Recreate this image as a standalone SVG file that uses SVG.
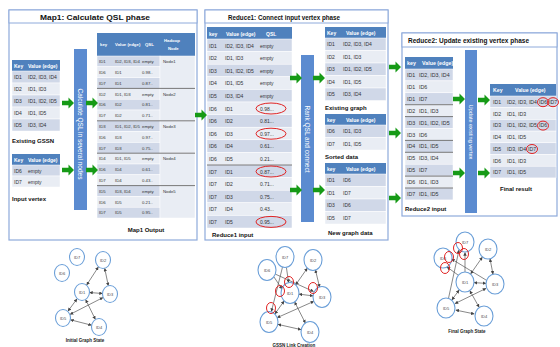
<svg xmlns="http://www.w3.org/2000/svg" width="560" height="347" viewBox="0 0 560 347">
<style>
text{font-family:'Liberation Sans',Arial,sans-serif;fill:#333}
.pn{fill:#fff;stroke:#8eaadb;stroke-width:1.2}
.tb{fill:#fff;stroke:#8eaadb;stroke-width:1}
.tt{font-size:7.5px;font-weight:bold;fill:#111}
.hd{fill:#4f81bd}
.a{fill:#d0d8e8;stroke:#fff;stroke-width:0.5}
.b{fill:#e9edf4;stroke:#fff;stroke-width:0.5}
.ht{fill:#fff;font-weight:bold}
.sep{stroke:#555;stroke-width:0.8}
.bar{fill:#5b8bd0}
.bt{fill:#fff}
.lb{font-size:6px;font-weight:bold;fill:#111}
.ga{fill:#169a16}
.red{fill:none;stroke:#e02424;stroke-width:1}
.nd{fill:#fff;stroke:#6b9fd8;stroke-width:1.1}
.nt{font-size:4px;fill:#444}
.ed{stroke:#555;stroke-width:0.7;fill:none;marker-start:url(#ah);marker-end:url(#ah)}
.ed1{stroke:#555;stroke-width:0.7;fill:none;marker-end:url(#ah)}
.gl{font-size:4.5px;font-weight:bold;fill:#222}
</style>
<defs>
<path id="ga" class="ga" d="M0,-2.2 H6.5 V-5.5 L12,0 L6.5,5.5 V2.2 H0 Z"/>
<marker id="ah" viewBox="0 0 6 6" refX="5.5" refY="3" markerWidth="3.5" markerHeight="3.5" markerUnits="userSpaceOnUse" orient="auto-start-reverse"><path d="M0,0 L6,3 L0,6 z" fill="#444"/></marker>
</defs>
<rect width="560" height="347" fill="#fff"/>

<!-- Map1 panel -->
<g id="map1">
<rect class="pn" x="9" y="10" width="188" height="230"/>
<rect class="tb" x="9" y="10" width="188" height="13"/>
<text class="tt" x="40" y="19.5" textLength="110" lengthAdjust="spacingAndGlyphs">Map1: Calculate QSL phase</text>
</g>

<g id="gssn" font-size="5">
<rect class="hd" x="12" y="60" width="48" height="11"/>
<text class="ht" x="14" y="67.5">Key</text><text class="ht" x="28" y="67.5">Value (edge)</text>
<rect class="a" x="12" y="71" width="48" height="12"/>
<rect class="b" x="12" y="83" width="48" height="12"/>
<rect class="a" x="12" y="95" width="48" height="12"/>
<rect class="b" x="12" y="107" width="48" height="12"/>
<rect class="a" x="12" y="119" width="48" height="12"/>
<text x="14" y="79">ID1</text><text x="28" y="79">ID2, ID3, ID4</text>
<text x="14" y="91">ID2</text><text x="28" y="91">ID1, ID3</text>
<text x="14" y="103">ID3</text><text x="28" y="103">ID1, ID2, ID5</text>
<text x="14" y="115">ID4</text><text x="28" y="115">ID1, ID5</text>
<text x="14" y="127">ID5</text><text x="28" y="127">ID3, ID4</text>
<text class="lb" x="12" y="143">Existing GSSN</text>
</g>

<g id="input-vertex" font-size="5">
<rect class="hd" x="12" y="154" width="48" height="11"/>
<text class="ht" x="14" y="161.5">Key</text><text class="ht" x="28" y="161.5">Value (edge)</text>
<rect class="a" x="12" y="165" width="48" height="11"/>
<rect class="b" x="12" y="176" width="48" height="11"/>
<text x="14" y="172.5">ID6</text><text x="28" y="172.5">empty</text>
<text x="14" y="183.5">ID7</text><text x="28" y="183.5">empty</text>
<text class="lb" x="12" y="201">Input vertex</text>
</g>

<g id="calc-bar">
<rect class="bar" x="74" y="49" width="13" height="161"/>
<text class="bt" font-size="6.5" transform="translate(80.5,134) rotate(90)" text-anchor="middle" dominant-baseline="central">Calculate QSL in several nodes</text>
</g>

<g id="map1-output" font-size="4.3">
<rect class="hd" x="97" y="33" width="98" height="23"/>
<text class="ht" x="100" y="46">key</text><text class="ht" x="115" y="46">Value (edge)</text><text class="ht" x="145" y="46">QSL</text>
<text class="ht" x="164" y="42">Hadoop</text><text class="ht" x="168" y="50">Node</text>
<rect class="a" x="97" y="56" width="63" height="10.8"/>
<rect class="b" x="97" y="66.8" width="63" height="10.8"/>
<rect class="a" x="97" y="77.6" width="63" height="10.8"/>
<rect class="b" x="97" y="88.4" width="63" height="10.8"/>
<rect class="a" x="97" y="99.2" width="63" height="10.8"/>
<rect class="b" x="97" y="110" width="63" height="10.8"/>
<rect class="a" x="97" y="120.8" width="63" height="10.8"/>
<rect class="b" x="97" y="131.6" width="63" height="10.8"/>
<rect class="a" x="97" y="142.4" width="63" height="10.8"/>
<rect class="b" x="97" y="153.2" width="63" height="10.8"/>
<rect class="a" x="97" y="164" width="63" height="10.8"/>
<rect class="b" x="97" y="174.8" width="63" height="10.8"/>
<rect class="a" x="97" y="185.6" width="63" height="10.8"/>
<rect class="b" x="97" y="196.4" width="63" height="10.8"/>
<rect class="a" x="97" y="207.2" width="63" height="10.8"/>
<rect class="b" x="160" y="56" width="35" height="32.4"/>
<rect class="b" x="160" y="88.4" width="35" height="32.4"/>
<rect class="b" x="160" y="120.8" width="35" height="32.4"/>
<rect class="b" x="160" y="153.2" width="35" height="32.4"/>
<rect class="b" x="160" y="185.6" width="35" height="32.4"/>
<line class="sep" x1="97" y1="88.4" x2="195" y2="88.4"/>
<line class="sep" x1="97" y1="120.8" x2="195" y2="120.8"/>
<line class="sep" x1="97" y1="153.2" x2="195" y2="153.2"/>
<line class="sep" x1="97" y1="185.6" x2="195" y2="185.6"/>
<text x="99" y="63.2">ID1</text><text x="115" y="63.2">ID2, ID3, ID4</text><text x="142" y="63.2">empty</text><text x="163" y="63.2">Node1</text>
<text x="99" y="74">ID6</text><text x="115" y="74">ID1</text><text x="142" y="74">0.98..</text>
<text x="99" y="84.8">ID7</text><text x="115" y="84.8">ID1</text><text x="142" y="84.8">0.87..</text>
<text x="99" y="95.6">ID2</text><text x="115" y="95.6">ID1, ID3</text><text x="142" y="95.6">empty</text><text x="163" y="95.6">Node2</text>
<text x="99" y="106.4">ID6</text><text x="115" y="106.4">ID2</text><text x="142" y="106.4">0.81..</text>
<text x="99" y="117.2">ID7</text><text x="115" y="117.2">ID2</text><text x="142" y="117.2">0.71..</text>
<text x="99" y="128">ID3</text><text x="115" y="128">ID1, ID2, ID5</text><text x="142" y="128">empty</text><text x="163" y="128">Node3</text>
<text x="99" y="138.8">ID6</text><text x="115" y="138.8">ID3</text><text x="142" y="138.8">0.97..</text>
<text x="99" y="149.6">ID7</text><text x="115" y="149.6">ID3</text><text x="142" y="149.6">0.75..</text>
<text x="99" y="160.4">ID4</text><text x="115" y="160.4">ID1, ID5</text><text x="142" y="160.4">empty</text><text x="163" y="160.4">Node4</text>
<text x="99" y="171.2">ID6</text><text x="115" y="171.2">ID4</text><text x="142" y="171.2">0.61..</text>
<text x="99" y="182">ID7</text><text x="115" y="182">ID4</text><text x="142" y="182">0.43..</text>
<text x="99" y="192.8">ID5</text><text x="115" y="192.8">ID3, ID4</text><text x="142" y="192.8">empty</text><text x="163" y="192.8">Node5</text>
<text x="99" y="203.6">ID6</text><text x="115" y="203.6">ID5</text><text x="142" y="203.6">0.21..</text>
<text x="99" y="214.4">ID7</text><text x="115" y="214.4">ID5</text><text x="142" y="214.4">0.95..</text>
<text class="lb" x="146" y="232" text-anchor="middle">Map1 Output</text>
</g>

<!-- Reduce1 panel -->
<g id="reduce1">
<rect class="pn" x="205" y="10" width="183" height="230"/>
<rect class="tb" x="205" y="10" width="183" height="13"/>
<text class="tt" x="228" y="19.5" textLength="112" lengthAdjust="spacingAndGlyphs">Reduce1: Connect input vertex phase</text>
</g>

<g id="reduce1-input" font-size="5">
<rect class="hd" x="207" y="27" width="85" height="12"/>
<text class="ht" x="209" y="35.5">key</text><text class="ht" x="226" y="35.5">Value (edge)</text><text class="ht" x="266" y="35.5">QSL</text>
<rect class="a" x="207" y="39" width="85" height="12.6"/>
<rect class="b" x="207" y="51.6" width="85" height="12.6"/>
<rect class="a" x="207" y="64.2" width="85" height="12.6"/>
<rect class="b" x="207" y="76.8" width="85" height="12.6"/>
<rect class="a" x="207" y="89.4" width="85" height="12.6"/>
<rect class="b" x="207" y="102" width="85" height="12.6"/>
<rect class="a" x="207" y="114.6" width="85" height="12.6"/>
<rect class="b" x="207" y="127.2" width="85" height="12.6"/>
<rect class="a" x="207" y="139.8" width="85" height="12.6"/>
<rect class="b" x="207" y="152.4" width="85" height="12.6"/>
<rect class="a" x="207" y="165" width="85" height="12.6"/>
<rect class="b" x="207" y="177.6" width="85" height="12.6"/>
<rect class="a" x="207" y="190.2" width="85" height="12.6"/>
<rect class="b" x="207" y="202.8" width="85" height="12.6"/>
<rect class="a" x="207" y="215.4" width="85" height="12.6"/>
<line class="sep" x1="207" y1="165" x2="292" y2="165"/>
<text x="209" y="47.6">ID1</text><text x="225" y="47.6">ID2, ID3, ID4</text><text x="260" y="47.6">empty</text>
<text x="209" y="60.2">ID2</text><text x="225" y="60.2">ID1, ID3</text><text x="260" y="60.2">empty</text>
<text x="209" y="72.8">ID3</text><text x="225" y="72.8">ID1, ID2, ID5</text><text x="260" y="72.8">empty</text>
<text x="209" y="85.4">ID4</text><text x="225" y="85.4">ID1, ID5</text><text x="260" y="85.4">empty</text>
<text x="209" y="98">ID5</text><text x="225" y="98">ID3, ID4</text><text x="260" y="98">empty</text>
<text x="209" y="110.6">ID6</text><text x="225" y="110.6">ID1</text><text x="260" y="110.6">0.98...</text>
<text x="209" y="123.2">ID6</text><text x="225" y="123.2">ID2</text><text x="260" y="123.2">0.81...</text>
<text x="209" y="135.8">ID6</text><text x="225" y="135.8">ID3</text><text x="260" y="135.8">0.97...</text>
<text x="209" y="148.4">ID6</text><text x="225" y="148.4">ID4</text><text x="260" y="148.4">0.61...</text>
<text x="209" y="161">ID6</text><text x="225" y="161">ID5</text><text x="260" y="161">0.21...</text>
<text x="209" y="173.6">ID7</text><text x="225" y="173.6">ID1</text><text x="260" y="173.6">0.87...</text>
<text x="209" y="186.2">ID7</text><text x="225" y="186.2">ID2</text><text x="260" y="186.2">0.71...</text>
<text x="209" y="198.8">ID7</text><text x="225" y="198.8">ID3</text><text x="260" y="198.8">0.75...</text>
<text x="209" y="211.4">ID7</text><text x="225" y="211.4">ID4</text><text x="260" y="211.4">0.43...</text>
<text x="209" y="224">ID7</text><text x="225" y="224">ID5</text><text x="260" y="224">0.95...</text>
<ellipse class="red" cx="271" cy="108.5" rx="15" ry="5.5"/>
<ellipse class="red" cx="271" cy="133.7" rx="15" ry="5.5"/>
<ellipse class="red" cx="271" cy="171.5" rx="15" ry="5.5"/>
<ellipse class="red" cx="271" cy="221.9" rx="15" ry="5.5"/>
<text class="lb" x="212" y="237">Reduce1 input</text>
</g>

<g id="rank-bar">
<rect class="bar" x="301" y="55" width="13" height="167"/>
<text class="bt" font-size="6.5" transform="translate(307.5,139) rotate(90)" text-anchor="middle" dominant-baseline="central">Rank QSL and connect</text>
</g>

<g id="existing-graph" font-size="5">
<rect class="hd" x="325" y="27" width="61" height="11"/>
<text class="ht" x="327" y="34.5">Key</text><text class="ht" x="346" y="34.5">Value (edge)</text>
<rect class="a" x="325" y="38" width="61" height="12.5"/>
<rect class="b" x="325" y="50.5" width="61" height="12.5"/>
<rect class="a" x="325" y="63" width="61" height="12.5"/>
<rect class="b" x="325" y="75.5" width="61" height="12.5"/>
<rect class="a" x="325" y="88" width="61" height="12.5"/>
<text x="327" y="46.3">ID1</text><text x="343" y="46.3">ID2, ID3, ID4</text>
<text x="327" y="58.8">ID2</text><text x="343" y="58.8">ID1, ID3</text>
<text x="327" y="71.3">ID3</text><text x="343" y="71.3">ID1, ID2, ID5</text>
<text x="327" y="83.8">ID4</text><text x="343" y="83.8">ID1, ID5</text>
<text x="327" y="96.3">ID5</text><text x="343" y="96.3">ID3, ID4</text>
<text class="lb" x="325" y="110">Existing graph</text>
</g>

<g id="sorted-data" font-size="5">
<rect class="hd" x="325" y="114" width="61" height="11"/>
<text class="ht" x="327" y="121.5">key</text><text class="ht" x="346" y="121.5">Value (edge)</text>
<rect class="a" x="325" y="125" width="61" height="12.5"/>
<rect class="b" x="325" y="137.5" width="61" height="12.5"/>
<text x="327" y="133.3">ID6</text><text x="343" y="133.3">ID1, ID3</text>
<text x="327" y="145.8">ID7</text><text x="343" y="145.8">ID1, ID5</text>
<text class="lb" x="325" y="159">Sorted data</text>
</g>

<g id="new-graph-data" font-size="5">
<rect class="hd" x="325" y="163" width="61" height="11"/>
<text class="ht" x="327" y="170.5">key</text><text class="ht" x="346" y="170.5">Value (edge)</text>
<rect class="a" x="325" y="174" width="61" height="12.5"/>
<rect class="b" x="325" y="186.5" width="61" height="12.5"/>
<rect class="a" x="325" y="199" width="61" height="12.5"/>
<rect class="b" x="325" y="211.5" width="61" height="12.5"/>
<text x="327" y="182.3">ID1</text><text x="343" y="182.3">ID6</text>
<text x="327" y="194.8">ID1</text><text x="343" y="194.8">ID7</text>
<text x="327" y="207.3">ID3</text><text x="343" y="207.3">ID6</text>
<text x="327" y="219.8">ID5</text><text x="343" y="219.8">ID7</text>
<text class="lb" x="328" y="235">New graph data</text>
</g>

<!-- Reduce2 panel -->
<g id="reduce2">
<rect class="pn" x="402" y="33" width="155" height="183"/>
<rect class="tb" x="402" y="33" width="155" height="14"/>
<text class="tt" x="408" y="43" textLength="121" lengthAdjust="spacingAndGlyphs">Reduce2: Update existing vertex phase</text>
</g>

<g id="reduce2-input" font-size="5.3">
<rect class="hd" x="405" y="57" width="48" height="12"/>
<text class="ht" x="407" y="65">key</text><text class="ht" x="422" y="65">Value (edge)</text>
<rect class="a" x="405" y="69" width="48" height="11.9"/>
<rect class="b" x="405" y="80.9" width="48" height="11.9"/>
<rect class="a" x="405" y="92.8" width="48" height="11.9"/>
<rect class="b" x="405" y="104.7" width="48" height="11.9"/>
<rect class="a" x="405" y="116.6" width="48" height="11.9"/>
<rect class="b" x="405" y="128.5" width="48" height="11.9"/>
<rect class="a" x="405" y="140.4" width="48" height="11.9"/>
<rect class="b" x="405" y="152.3" width="48" height="11.9"/>
<rect class="a" x="405" y="164.2" width="48" height="11.9"/>
<rect class="b" x="405" y="176.1" width="48" height="11.9"/>
<rect class="a" x="405" y="188" width="48" height="11.9"/>
<line class="sep" x1="405" y1="104.7" x2="453" y2="104.7"/>
<line class="sep" x1="405" y1="116.6" x2="453" y2="116.6"/>
<line class="sep" x1="405" y1="140.4" x2="453" y2="140.4"/>
<line class="sep" x1="405" y1="152.3" x2="453" y2="152.3"/>
<line class="sep" x1="405" y1="176.1" x2="453" y2="176.1"/>
<line class="sep" x1="405" y1="188" x2="453" y2="188"/>
<text x="407" y="77">ID1</text><text x="419" y="77">ID2, ID3, ID4</text>
<text x="407" y="88.9">ID1</text><text x="419" y="88.9">ID6</text>
<text x="407" y="100.8">ID1</text><text x="419" y="100.8">ID7</text>
<text x="407" y="112.7">ID2</text><text x="419" y="112.7">ID1, ID3</text>
<text x="407" y="124.6">ID3</text><text x="419" y="124.6">ID1, ID2, ID5</text>
<text x="407" y="136.5">ID3</text><text x="419" y="136.5">ID6</text>
<text x="407" y="148.4">ID4</text><text x="419" y="148.4">ID1, ID5</text>
<text x="407" y="160.3">ID5</text><text x="419" y="160.3">ID3, ID4</text>
<text x="407" y="172.2">ID5</text><text x="419" y="172.2">ID7</text>
<text x="407" y="184.1">ID6</text><text x="419" y="184.1">ID1, ID3</text>
<text x="407" y="196">ID7</text><text x="419" y="196">ID1, ID5</text>
<text class="lb" x="405" y="211">Reduce2 input</text>
</g>

<g id="update-bar">
<rect class="bar" x="465" y="50" width="12" height="163"/>
<text class="bt" font-size="5.5" transform="translate(471,132) rotate(90)" text-anchor="middle" dominant-baseline="central">Update existing vertex</text>
</g>

<g id="final-result" font-size="5.2">
<rect class="hd" x="490" y="84" width="66" height="12"/>
<text class="ht" x="493" y="92">Key</text><text class="ht" x="515" y="92">Value (edge)</text>
<rect class="a" x="490" y="96" width="66" height="11.7"/>
<rect class="b" x="490" y="107.7" width="66" height="11.7"/>
<rect class="a" x="490" y="119.4" width="66" height="11.7"/>
<rect class="b" x="490" y="131.1" width="66" height="11.7"/>
<rect class="a" x="490" y="142.8" width="66" height="11.7"/>
<rect class="b" x="490" y="154.5" width="66" height="11.7"/>
<rect class="a" x="490" y="166.2" width="66" height="11.7"/>
<text x="493" y="104">ID1</text><text x="507" y="104">ID2, ID3, ID4</text><text x="539" y="104">ID6</text><text x="549" y="104">ID7</text>
<text x="493" y="115.7">ID2</text><text x="507" y="115.7">ID1, ID3</text>
<text x="493" y="127.4">ID3</text><text x="507" y="127.4">ID1, ID2, ID5</text><text x="539" y="127.4">ID6</text>
<text x="493" y="139.1">ID4</text><text x="507" y="139.1">ID1, ID5</text>
<text x="493" y="150.8">ID5</text><text x="507" y="150.8">ID3, ID4</text><text x="528" y="150.8">ID7</text>
<text x="493" y="162.5">ID6</text><text x="507" y="162.5">ID1, ID3</text>
<text x="493" y="174.2">ID7</text><text x="507" y="174.2">ID1, ID5</text>
<ellipse class="red" cx="543" cy="102.2" rx="5.5" ry="4.5"/>
<ellipse class="red" cx="553" cy="102.2" rx="5.5" ry="4.5"/>
<ellipse class="red" cx="543" cy="125.6" rx="5.5" ry="4.5"/>
<ellipse class="red" cx="532" cy="149" rx="5.5" ry="4.5"/>
<text class="lb" x="500" y="191">Final result</text>
</g>

<g id="connectors">
<use href="#ga" x="62" y="103"/>
<use href="#ga" x="86" y="103"/>
<use href="#ga" x="62" y="170"/>
<use href="#ga" x="86" y="170"/>
<use href="#ga" x="195" y="115"/>
<use href="#ga" x="290" y="78"/>
<use href="#ga" x="313" y="78"/>
<use href="#ga" x="290" y="190"/>
<use href="#ga" x="313" y="190"/>
<use href="#ga" x="389" y="67"/>
<use href="#ga" x="389" y="133"/>
<use href="#ga" x="389" y="198"/>
<use href="#ga" x="453" y="99"/>
<use href="#ga" x="478" y="100"/>
<use href="#ga" x="453" y="173"/>
<use href="#ga" x="478" y="173"/>
<!-- initial graph edges -->
<line class="ed" x1="86.7" y1="284.9" x2="98.3" y2="267.1"/>
<line class="ed" x1="104.7" y1="268.3" x2="108.3" y2="285.7"/>
<line class="ed" x1="89.5" y1="292.5" x2="102.5" y2="293.5"/>
<line class="ed" x1="77" y1="298.9" x2="68" y2="311.1"/>
<line class="ed" x1="85.7" y1="299.7" x2="95.3" y2="319.3"/>
<line class="ed" x1="102.9" y1="297.6" x2="70.1" y2="314.4"/>
<line class="ed" x1="70.5" y1="319.8" x2="91.5" y2="325.2"/>
<!-- GSSN link creation edges -->
<line class="ed" x1="295.7" y1="284.8" x2="307.3" y2="268.2"/>
<line class="ed" x1="315.4" y1="269.7" x2="319.6" y2="287.3"/>
<line class="ed" x1="299" y1="294.1" x2="313" y2="295.9"/>
<line class="ed" x1="284.1" y1="301.1" x2="274.9" y2="313.9"/>
<line class="ed" x1="294.6" y1="301.9" x2="305.4" y2="323.1"/>
<line class="ed" x1="313.9" y1="301.3" x2="277.1" y2="317.7"/>
<line class="ed" x1="278" y1="324.4" x2="301" y2="329.6"/>
<line class="ed1" x1="274" y1="277" x2="282" y2="289"/>
<line class="ed1" x1="275.1" y1="274" x2="313.5" y2="291.5"/>
<line class="ed1" x1="286.4" y1="267.4" x2="288.6" y2="282.6"/>
<line class="ed1" x1="282.6" y1="266.7" x2="271.4" y2="311.5"/>
<!-- final graph edges -->
<line class="ed" x1="470.7" y1="273.8" x2="482.3" y2="257.2"/>
<line class="ed" x1="490" y1="258.8" x2="493" y2="274.2"/>
<line class="ed" x1="474" y1="282.6" x2="486" y2="283.4"/>
<line class="ed" x1="459.1" y1="290.1" x2="451.9" y2="299.9"/>
<line class="ed" x1="469.9" y1="290.7" x2="479.1" y2="307.3"/>
<line class="ed" x1="486" y1="288.4" x2="455" y2="303.6"/>
<line class="ed" x1="455.8" y1="310.1" x2="474.2" y2="313.9"/>
<line class="ed1" x1="465" y1="272" x2="465" y2="252.5"/>
<line class="ed1" x1="448.5" y1="298.3" x2="459" y2="250"/>
<line class="ed1" x1="486" y1="280" x2="451.5" y2="259"/>
<line class="ed1" x1="458" y1="275" x2="447" y2="267"/>
</g>

<g id="initial-graph">
<ellipse class="nd" cx="77" cy="257" rx="7.5" ry="8.5"/><text class="nt" x="77" y="258.5" text-anchor="middle">ID7</text>
<ellipse class="nd" cx="103" cy="260" rx="7.5" ry="8.5"/><text class="nt" x="103" y="261.5" text-anchor="middle">ID2</text>
<ellipse class="nd" cx="62" cy="273" rx="7.5" ry="8.5"/><text class="nt" x="62" y="274.5" text-anchor="middle">ID6</text>
<ellipse class="nd" cx="82" cy="292" rx="7.5" ry="8.5"/><text class="nt" x="82" y="293.5" text-anchor="middle">ID1</text>
<ellipse class="nd" cx="110" cy="294" rx="7.5" ry="8.5"/><text class="nt" x="110" y="295.5" text-anchor="middle">ID3</text>
<ellipse class="nd" cx="63" cy="318" rx="7.5" ry="8.5"/><text class="nt" x="63" y="319.5" text-anchor="middle">ID5</text>
<ellipse class="nd" cx="99" cy="327" rx="7.5" ry="8.5"/><text class="nt" x="99" y="328.5" text-anchor="middle">ID4</text>
<text class="gl" x="85" y="342" text-anchor="middle">Initial Graph State</text>
</g>

<g id="gssn-link-graph">
<ellipse class="nd" cx="285" cy="257" rx="9" ry="10.5"/><text class="nt" x="285" y="258.5" text-anchor="middle">ID7</text>
<ellipse class="nd" cx="313" cy="260" rx="9" ry="10.5"/><text class="nt" x="313" y="261.5" text-anchor="middle">ID2</text>
<ellipse class="nd" cx="267" cy="270" rx="9" ry="10.5"/><text class="nt" x="267" y="271.5" text-anchor="middle">ID6</text>
<ellipse class="nd" cx="290" cy="293" rx="9" ry="10.5"/><text class="nt" x="290" y="294.5" text-anchor="middle">ID1</text>
<ellipse class="nd" cx="322" cy="297" rx="9" ry="10.5"/><text class="nt" x="322" y="298.5" text-anchor="middle">ID3</text>
<ellipse class="nd" cx="269" cy="322" rx="9" ry="10.5"/><text class="nt" x="269" y="323.5" text-anchor="middle">ID5</text>
<ellipse class="nd" cx="310" cy="332" rx="9" ry="10.5"/><text class="nt" x="310" y="333.5" text-anchor="middle">ID4</text>
<ellipse class="red" cx="289" cy="282" rx="4.5" ry="5.5"/>
<ellipse class="red" cx="280" cy="291" rx="4.5" ry="5.5"/>
<ellipse class="red" cx="313" cy="288" rx="4.5" ry="5.5"/>
<ellipse class="red" cx="271" cy="308" rx="4.5" ry="5.5"/>
<text class="gl" x="294" y="346.5" text-anchor="middle">GSSN Link Creation</text>
</g>

<g id="final-graph">
<ellipse class="nd" cx="465" cy="242" rx="9" ry="10"/><text class="nt" x="465" y="243.5" text-anchor="middle">ID7</text>
<ellipse class="nd" cx="488" cy="249" rx="9" ry="10"/><text class="nt" x="488" y="250.5" text-anchor="middle">ID2</text>
<ellipse class="nd" cx="443" cy="258" rx="9" ry="10"/><text class="nt" x="443" y="259.5" text-anchor="middle">ID6</text>
<ellipse class="nd" cx="465" cy="282" rx="9" ry="10"/><text class="nt" x="465" y="283.5" text-anchor="middle">ID1</text>
<ellipse class="nd" cx="495" cy="284" rx="9" ry="10"/><text class="nt" x="495" y="285.5" text-anchor="middle">ID3</text>
<ellipse class="nd" cx="446" cy="308" rx="9" ry="10"/><text class="nt" x="446" y="309.5" text-anchor="middle">ID5</text>
<ellipse class="nd" cx="484" cy="316" rx="9" ry="10"/><text class="nt" x="484" y="317.5" text-anchor="middle">ID4</text>
<ellipse class="red" cx="458" cy="248" rx="4.5" ry="5.5"/>
<ellipse class="red" cx="464" cy="254" rx="4.5" ry="5.5"/>
<ellipse class="red" cx="449" cy="257" rx="4.5" ry="5.5"/>
<ellipse class="red" cx="445" cy="268" rx="4.5" ry="5.5"/>
<text class="gl" x="467" y="333" text-anchor="middle">Final Graph State</text>
</g>
</svg>
